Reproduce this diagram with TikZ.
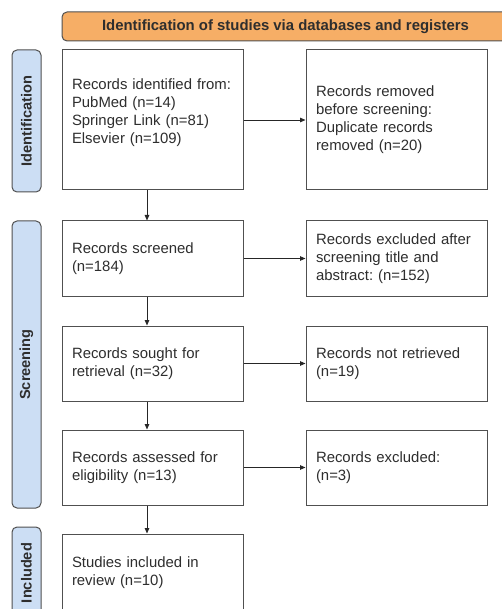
\documentclass[tikz,border=0pt]{standalone}
\usepackage{fontspec}
\setmainfont{Liberation Sans}
\usetikzlibrary{arrows.meta}
\definecolor{hdrfill}{HTML}{F6AE66}
\definecolor{tabfill}{HTML}{CCDEF4}
\definecolor{edge}{HTML}{505050}
\definecolor{txt}{HTML}{2E2E2E}
\frenchspacing
\tikzset{
  box/.style={draw=edge, line width=1pt, fill=white, text=txt, minimum width=181pt,
    text width=161pt, inner xsep=10pt, inner ysep=0pt, align=left,
    font=\fontsize{14.9}{18}\selectfont\frenchspacing},
  tab/.style={draw=edge, line width=1pt, fill=tabfill, rounded corners=5pt, rotate=90,
    minimum height=29pt, inner sep=0pt, text=txt, font=\fontsize{14.6}{17}\selectfont\bfseries},
  hdr/.style={draw=edge, line width=1pt, fill=hdrfill, rounded corners=5pt, text=txt,
    minimum width=447pt, minimum height=29pt, inner sep=0pt, font=\fontsize{14.9}{17}\selectfont\bfseries},
  arr/.style={draw=black!85, line width=0.9pt, -{Triangle[length=5.5pt,width=4.5pt]}}
}
\begin{document}
\begin{tikzpicture}[x=1pt,y=-1pt]
\useasboundingbox (0,0) rectangle (501,609);
\fill[white] (0,0) rectangle (501,609);
% header
\node[hdr] (head) at (285.5,26.5) {Identification of studies via databases and registers};
% tabs
\node[tab, minimum width=142pt] (tid) at (26.5,121) {Identification};
\node[tab, minimum width=287pt] (tsc) at (26.5,364.5) {Screening};
\node[tab, minimum width=92pt] (tin) at (26.5,573) {Included};
% boxes
\node[box, minimum height=140pt] (ident) at (152.5,120) {Records identified from:\\PubMed (n=14)\\Springer Link (n=81)\\Elsevier (n=109)\\ \mbox{}};
\node[box, minimum height=140pt] (dup) at (396.5,120) {Records removed\\before screening:\\Duplicate records\\removed (n=20)};
\node[box, minimum height=75pt] (scr) at (152.5,258.5) {Records screened\\(n=184)};
\node[box, minimum height=75pt] (exc1) at (396.5,258.5) {Records excluded after\\screening title and\\abstract: (n=152)};
\node[box, minimum height=75pt] (sought) at (152.5,363.5) {Records sought for\\retrieval (n=32)};
\node[box, minimum height=75pt] (notret) at (396.5,363.5) {Records not retrieved\\(n=19)};
\node[box, minimum height=75pt] (elig) at (152.5,467.5) {Records assessed for\\eligibility (n=13)};
\node[box, minimum height=75pt] (exc2) at (396.5,467.5) {Records excluded:\\(n=3)};
\node[box, minimum height=77pt] (incl) at (152.5,572.5) {Studies included in\\review (n=10)};
% spine for vertical arrows
\coordinate (spine) at (147,0);
% arrows
\draw[arr] (ident.east) -- (dup.west);
\draw[arr] (scr.east) -- (exc1.west);
\draw[arr] (sought.east) -- (notret.west);
\draw[arr] (elig.east) -- (exc2.west);
\draw[arr] (ident.south -| spine) -- (scr.north -| spine);
\draw[arr] (scr.south -| spine) -- (sought.north -| spine);
\draw[arr] (sought.south -| spine) -- (elig.north -| spine);
\draw[arr] (elig.south -| spine) -- (incl.north -| spine);
\end{tikzpicture}
\end{document}
